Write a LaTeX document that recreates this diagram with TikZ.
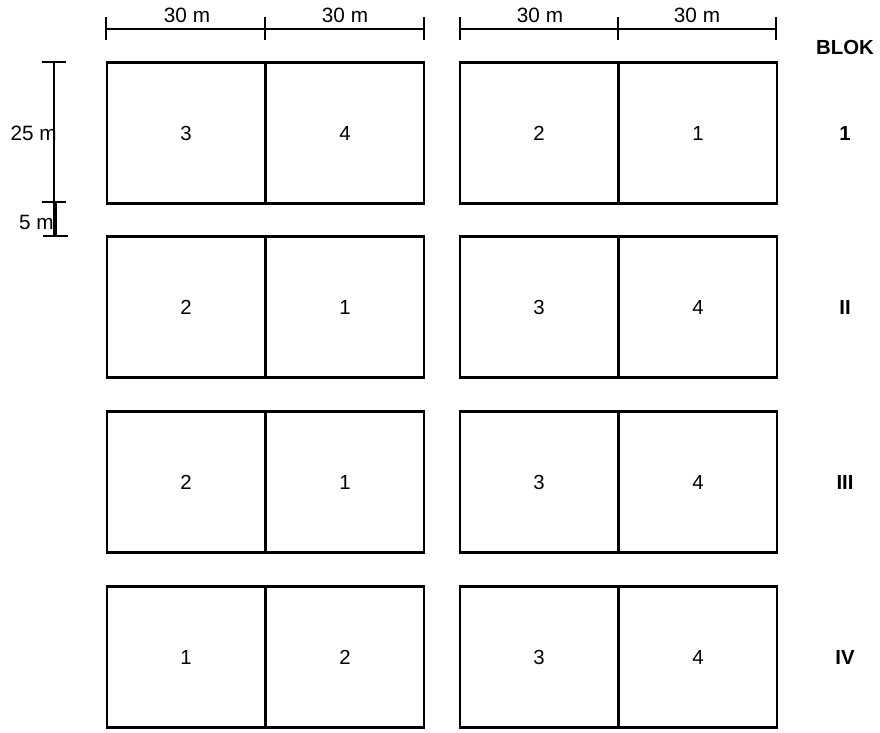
\documentclass[tikz,border=0pt]{standalone}
\usepackage{fontspec}
\setmainfont{Liberation Sans}
\usetikzlibrary{positioning}
\tikzset{
  plot/.style={draw,line width=1.6pt,minimum width=3.16cm,minimum height=2.82cm,inner sep=0pt,outer sep=0pt,font=\fontsize{11.6}{13}\selectfont},
  dim/.style={line width=1.1pt},
  tick/.style={line width=0.7pt},
  lbl/.style={font=\fontsize{11.8}{13}\selectfont,inner sep=0pt},
  blok/.style={font=\fontsize{11.6}{13}\selectfont\bfseries,inner sep=0pt}
}
\begin{document}
\begin{tikzpicture}[x=0.02cm,y=-0.02cm]
  \useasboundingbox (0,0) rectangle (880,733);

  % widths on top
  \draw[dim] (106,29) -- (424,29);
  \draw[dim] (460,29) -- (776,29);
  \foreach \x in {106,265,424,460,618,776}
    \draw[tick] (\x,17) -- (\x,40);
  \node[lbl] (w1) at (187,15) {30 m};
  \node[lbl] (w2) at (345,15) {30 m};
  \node[lbl] (w3) at (540,15) {30 m};
  \node[lbl] (w4) at (697,15) {30 m};

  % plot length and path
  \draw[dim] (54,62) -- (54,202);
  \draw[line width=1.8pt] (55,202) -- (55,236);
  \draw[tick] (42,62) -- (66,62);
  \draw[tick] (42,202) -- (66,202);
  \draw[tick] (43,236) -- (68,236);
  \node[lbl,anchor=east] (h1) at (57,133) {25 m};
  \node[lbl,anchor=east] (h2) at (54,222) {5 m};

  % block I
  \node[plot] (a1) at (186,133) {3};
  \node[plot] (a2) at (345,133) {4};
  \node[plot] (a3) at (539,133) {2};
  \node[plot] (a4) at (698,133) {1};
  % block II
  \node[plot] (b1) at (186,307) {2};
  \node[plot] (b2) at (345,307) {1};
  \node[plot] (b3) at (539,307) {3};
  \node[plot] (b4) at (698,307) {4};
  % block III
  \node[plot] (c1) at (186,482) {2};
  \node[plot] (c2) at (345,482) {1};
  \node[plot] (c3) at (539,482) {3};
  \node[plot] (c4) at (698,482) {4};
  % block IV
  \node[plot] (d1) at (186,657) {1};
  \node[plot] (d2) at (345,657) {2};
  \node[plot] (d3) at (539,657) {3};
  \node[plot] (d4) at (698,657) {4};

  % block names
  \node[blok] (blok) at (845,47) {BLOK};
  \node[blok] (k1) at (845,133) {1};
  \node[blok] (k2) at (845,307) {II};
  \node[blok] (k3) at (845,482) {III};
  \node[blok] (k4) at (845,657) {IV};
\end{tikzpicture}
\end{document}
